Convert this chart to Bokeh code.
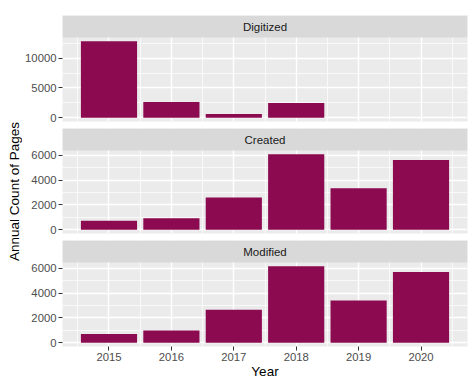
from math import pi
from bokeh.plotting import figure
from bokeh.models import Range1d, FixedTicker, Label, ColumnDataSource
from bokeh.layouts import row, column
from bokeh.embed import file_html
from bokeh.resources import INLINE

# ---------------- data ----------------
years = [2015, 2016, 2017, 2018, 2019, 2020]
half_years = [2014.5, 2015.5, 2016.5, 2017.5, 2018.5, 2019.5, 2020.5]
panels = ["Digitized", "Created", "Modified"]
digitized_years = [2015, 2016, 2017, 2018]
digitized = [12850, 2640, 620, 2470]
created = [715, 930, 2600, 6090, 3340, 5620]
modified = [690, 985, 2650, 6150, 3400, 5700]
digitized_ticks = [0, 5000, 10000]
digitized_minor = [2500, 7500, 12500]
count_ticks = [0, 2000, 4000, 6000]
count_minor = [1000, 3000, 5000]
x_title = "Year"
y_title = "Annual Count of Pages"

# ---------------- style ----------------
FONT = "Liberation Sans"
BAR = "#8B0A50"
PANEL_BG = "#EBEBEB"
STRIP_BG = "#D9D9D9"
FW = 405
SH = 22
LB = 40
RB = 4
YLAB_W = 22

x_lo = 2014.55 - 0.05 * 5.9
x_hi = 2020.45 + 0.05 * 5.9
xr = Range1d(x_lo, x_hi)


def make_panel(name, xs, tops, ticks, minor, fh, top_border, bottom_border, show_x):
    m = max(tops)
    lo, hi = -0.05 * m, 1.05 * m
    strip_top = hi + SH / fh * (hi - lo)
    p = figure(frame_width=FW, frame_height=fh + SH, x_range=xr,
               y_range=Range1d(lo, strip_top),
               toolbar_location=None, output_backend="svg",
               x_axis_location="below" if show_x else None,
               min_border_left=LB, min_border_right=RB,
               min_border_top=top_border, min_border_bottom=bottom_border,
               background_fill_color=PANEL_BG, border_fill_color="white",
               outline_line_color=None)
    src = ColumnDataSource(dict(x=xs, top=tops))
    p.vbar(x="x", top="top", bottom=0, width=0.9, source=src,
           fill_color=BAR, line_color=None)
    # facet strip
    p.quad(left=x_lo, right=x_hi, bottom=hi, top=strip_top,
           fill_color=STRIP_BG, line_color=None)
    p.add_layout(Label(x=(x_lo + x_hi) / 2, y=(hi + strip_top) / 2, text=name,
                       text_align="center", text_baseline="middle",
                       text_font=FONT, text_font_size="11.5px",
                       text_color="#1A1A1A"))
    yt = FixedTicker(ticks=ticks, minor_ticks=minor)
    xt = FixedTicker(ticks=years, minor_ticks=half_years)
    p.yaxis.ticker = yt
    p.ygrid.ticker = yt
    p.xgrid.ticker = xt
    for g in (p.xgrid[0], p.ygrid[0]):
        g.grid_line_color = "white"
        g.grid_line_width = 1.4
        g.minor_grid_line_color = "white"
        g.minor_grid_line_width = 0.7
    axes = list(p.yaxis)
    if show_x:
        p.xaxis.ticker = xt
        p.xaxis.axis_label = x_title
        p.xaxis.axis_label_text_font = FONT
        p.xaxis.axis_label_text_font_size = "13.5px"
        p.xaxis.axis_label_text_font_style = "normal"
        p.xaxis.axis_label_text_color = "black"
        p.xaxis.axis_label_standoff = 0
        axes += list(p.xaxis)
    for ax in axes:
        ax.axis_line_color = None
        ax.major_tick_in = 0
        ax.major_tick_out = 4
        ax.major_tick_line_color = "#333333"
        ax.major_tick_line_width = 1
        ax.minor_tick_line_color = None
        ax.major_label_text_font = FONT
        ax.major_label_text_font_size = "11.3px"
        ax.major_label_text_color = "#4D4D4D"
        ax.major_label_standoff = 2
    return p


p1 = make_panel(panels[0], digitized_years, digitized, digitized_ticks, digitized_minor,
                84, 15, 7, False)
p2 = make_panel(panels[1], years, created, count_ticks, count_minor,
                83, 0, 7, False)
p3 = make_panel(panels[2], years, modified, count_ticks, count_minor,
                84, 0, 0, True)

H = 378
ylab = figure(width=YLAB_W, height=H, x_range=Range1d(0, YLAB_W), y_range=Range1d(0, H),
              toolbar_location=None, output_backend="svg",
              x_axis_location=None, y_axis_location=None,
              min_border=0, outline_line_color=None)
ylab.grid.visible = False
ylab.add_layout(Label(x=14, y=H - 191, text=y_title, angle=pi / 2,
                      text_align="center", text_baseline="middle",
                      text_font=FONT, text_font_size="13.5px",
                      text_color="black"))

layout = row(ylab, column(p1, p2, p3))

open("out.html", "w").write(file_html(layout, INLINE))
